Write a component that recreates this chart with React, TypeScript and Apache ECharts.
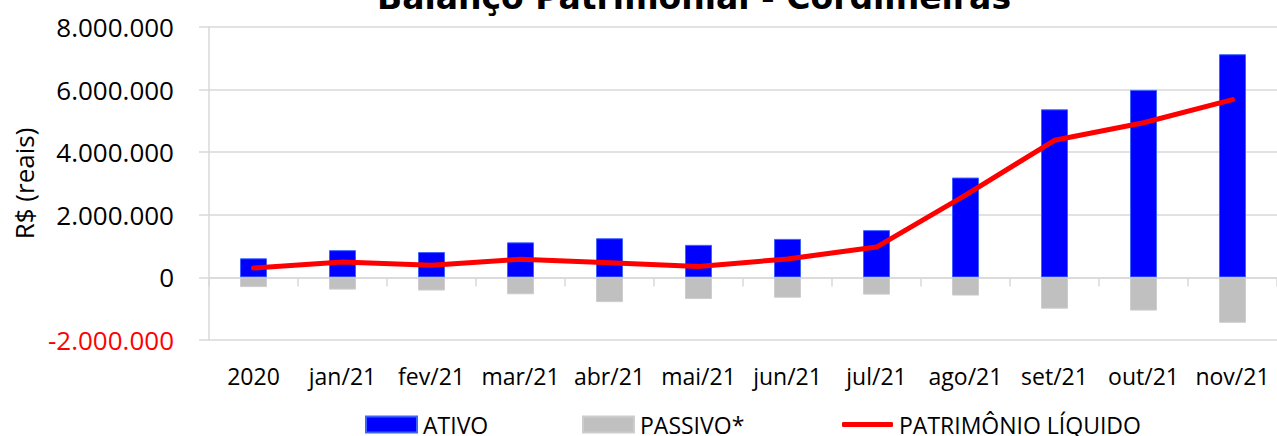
import React, { useEffect, useRef } from "react";
import * as echarts from "echarts";

const categories = ["2020", "jan/21", "fev/21", "mar/21", "abr/21", "mai/21", "jun/21", "jul/21", "ago/21", "set/21", "out/21", "nov/21"];
const ativo = [610000, 870000, 810000, 1120000, 1250000, 1040000, 1230000, 1510000, 3190000, 5370000, 5990000, 7130000];
const passivo = [-310000, -390000, -420000, -540000, -790000, -690000, -650000, -550000, -580000, -1000000, -1060000, -1450000];
const patrimonio = [300000, 490000, 390000, 580000, 470000, 350000, 590000, 970000, 2630000, 4380000, 4940000, 5680000];

const title = "Balanço Patrimonial - Cordilheiras";
const yName = "R$ (reais)";

function fmt(v: number): string {
  const s = Math.abs(v).toString().replace(/\B(?=(\d{3})+(?!\d))/g, ".");
  return (v < 0 ? "-" : "") + s;
}

const FONT = "'Open Sans', 'Noto Sans', sans-serif";
const GRID = "#d9d9d9";

export default function App() {
  const ref = useRef<HTMLDivElement>(null);
  useEffect(() => {
    if (!ref.current) return;
    const chart = echarts.init(ref.current, null, { renderer: "svg" });
    const legendBase = {
      orient: "horizontal",
      top: 413,
      padding: 0,
      itemWidth: 51,
      itemHeight: 16,
      textStyle: { fontFamily: FONT, fontSize: 23, color: "#000", padding: [0, 0, 0, 1] },
    };
    chart.setOption({
      animation: false,
      backgroundColor: "#fff",
      graphic: [
        {
          type: "text",
          x: 694,
          y: -3,
          style: {
            text: title,
            font: "bold 33px 'DejaVu Sans'",
            fill: "#000",
            textAlign: "center",
            textVerticalAlign: "middle",
          },
        },
      ],
      legend: [
        { ...legendBase, left: 365, data: [{ name: "ATIVO", icon: "rect" }] },
        { ...legendBase, left: 582, data: [{ name: "PASSIVO*", icon: "rect" }] },
        { ...legendBase, left: 842, itemHeight: 5, data: [{ name: "PATRIMÔNIO LÍQUIDO", icon: "roundRect" }] },
      ],
      grid: { left: 209, right: 0, top: 27, bottom: 96, containLabel: false },
      xAxis: [
        {
          type: "category",
          data: categories,
          position: "bottom",
          axisLine: { show: true, onZero: true, lineStyle: { color: GRID, width: 1.5 } },
          axisTick: { show: true, length: 9, lineStyle: { color: GRID, width: 1.5 } },
          axisLabel: { show: false },
          splitLine: { show: false },
        },
        {
          type: "category",
          data: categories,
          position: "bottom",
          axisLine: { show: false, onZero: false },
          axisTick: { show: false },
          axisLabel: { show: true, interval: 0, margin: 24, fontFamily: FONT, fontSize: 23, color: "#000" },
          splitLine: { show: false },
        },
      ],
      yAxis: {
        type: "value",
        min: -2000000,
        max: 8000000,
        interval: 2000000,
        name: yName,
        nameLocation: "middle",
        nameGap: 170,
        nameTextStyle: { fontFamily: FONT, fontSize: 26, color: "#000" },
        axisLine: { show: true, lineStyle: { color: GRID, width: 1.5 } },
        axisTick: { show: true, length: 10, lineStyle: { color: GRID, width: 1.5 } },
        axisLabel: {
          margin: 35,
          fontFamily: FONT,
          fontSize: 26,
          formatter: (v: number) => fmt(v),
          color: (v: any) => (Number(v) < 0 ? "#ff0000" : "#000"),
        },
        splitLine: { show: true, lineStyle: { color: GRID, width: 1.5 } },
      },
      series: [
        {
          name: "ATIVO",
          type: "bar",
          stack: "total",
          xAxisIndex: 0,
          barWidth: 27,
          data: ativo,
          itemStyle: { color: "#0000ff", borderColor: "#3f63ff", borderWidth: 1 },
        },
        {
          name: "PASSIVO*",
          type: "bar",
          stack: "total",
          xAxisIndex: 0,
          barWidth: 27,
          data: passivo,
          itemStyle: { color: "#c0c0c0", borderColor: "#cdcdcd", borderWidth: 1 },
        },
        {
          name: "PATRIMÔNIO LÍQUIDO",
          type: "line",
          xAxisIndex: 0,
          data: patrimonio,
          symbol: "none",
          showSymbol: false,
          lineStyle: { color: "#ff0000", width: 5, cap: "round", join: "round" },
          itemStyle: { color: "#ff0000" },
          z: 5,
        },
      ],
    });
    return () => chart.dispose();
  }, []);
  return <div ref={ref} style={{ position: "absolute", left: 0, top: 0, width: 1277, height: 436 }} />;
}
